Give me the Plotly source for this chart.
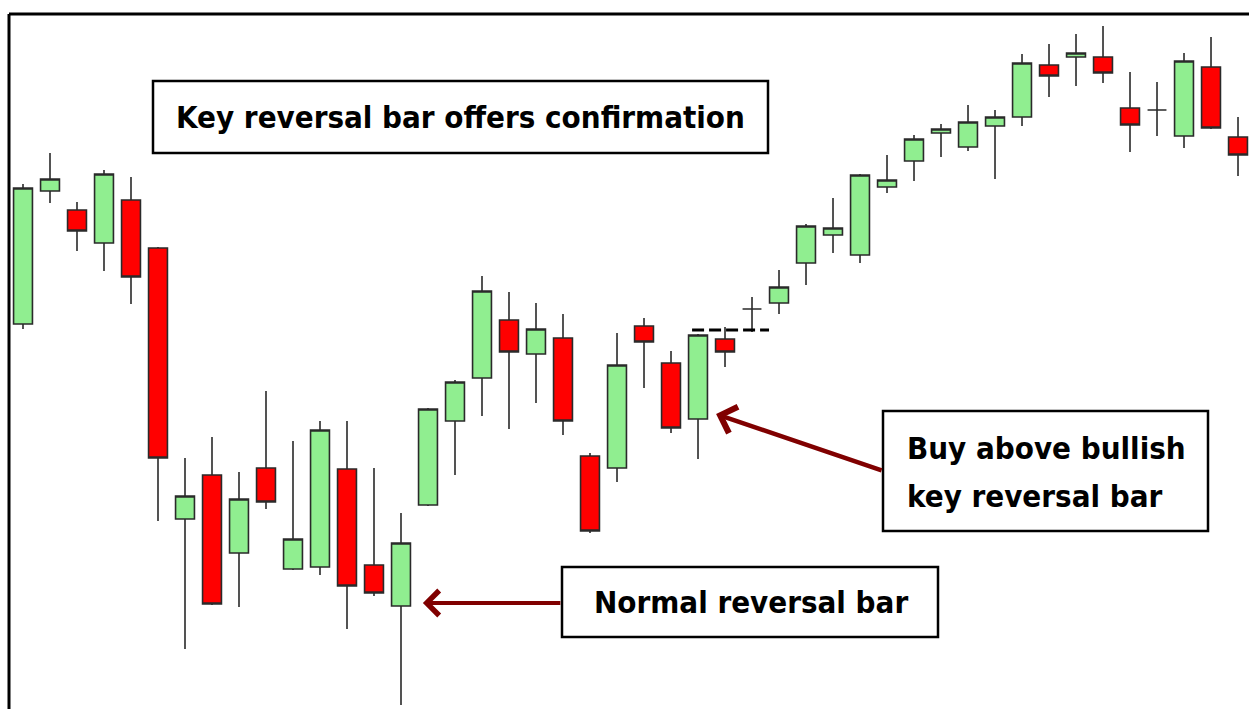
import plotly.graph_objects as go

# OHLC (arbitrary price units), one candle per bar
bar = list(range(1, 47))
opens = [38.5, 51.8, 49.9, 46.6, 50.9, 46.1, 19.0, 23.4, 15.6, 24.1,
         14.0, 14.2, 24.0, 14.4, 10.3, 20.4, 28.8, 33.1, 38.9, 35.5,
         37.1, 25.3, 24.1, 38.3, 34.6, 29.0, 37.0, 40.0, 40.6, 44.6,
         47.4, 45.4, 52.2, 54.8, 57.6, 56.2, 58.3, 59.2, 64.4, 65.2,
         65.2, 60.1, 59.9, 57.3, 64.2, 57.2]
highs = [52.5, 55.6, 50.7, 53.9, 53.2, 46.2, 25.1, 27.2, 23.7, 31.8,
         26.8, 28.8, 28.8, 24.1, 19.6, 30.1, 32.9, 43.3, 41.7, 40.6,
         39.5, 25.6, 37.6, 39.1, 35.8, 37.5, 38.2, 41.2, 43.9, 48.5,
         51.1, 53.5, 55.4, 57.4, 58.5, 60.4, 59.9, 65.5, 66.5, 67.5,
         68.3, 63.7, 62.7, 65.6, 67.2, 59.2]
lows = [38.0, 50.6, 45.8, 43.8, 40.5, 18.8, 6.0, 10.4, 10.2, 20.0,
        13.9, 13.4, 8.0, 11.3, 0.4, 20.3, 23.4, 29.3, 28.0, 30.6,
        27.4, 17.6, 22.7, 32.1, 27.6, 25.0, 34.2, 37.7, 39.5, 42.4,
        45.6, 44.6, 51.6, 52.8, 55.2, 55.8, 53.0, 58.3, 61.2, 62.3,
        62.6, 55.7, 57.3, 56.1, 58.0, 53.3]
closes = [52.1, 53.0, 47.8, 53.5, 43.2, 25.1, 21.3, 10.5, 21.0, 20.7,
          17.0, 27.9, 12.3, 11.6, 16.6, 30.0, 32.7, 41.8, 35.7, 38.0,
          28.8, 17.8, 34.4, 36.7, 28.1, 37.4, 35.7, 40.0, 42.2, 48.3,
          48.1, 53.4, 52.9, 57.0, 58.0, 58.7, 59.2, 64.6, 63.3, 65.6,
          63.6, 58.4, 59.9, 64.8, 58.1, 55.4]

trigger_level = 37.9   # dashed line above the key reversal bar

W, H = 1249, 709
fnt = "DejaVu Sans Condensed, Roboto Condensed, Arial Narrow, sans-serif"

fig = go.Figure(go.Candlestick(
    x=bar, open=opens, high=highs, low=lows, close=closes,
    increasing=dict(fillcolor="#90ee90", line=dict(color="#2a2a2a", width=1.6)),
    decreasing=dict(fillcolor="#ff0000", line=dict(color="#2a2a2a", width=1.6)),
    whiskerwidth=0, hoverinfo="skip",
))

fig.add_shape(type="line", x0=25.78, x1=28.63, y0=trigger_level, y1=trigger_level,
              line=dict(color="black", width=3, dash="12px,5px"))

# frame (only top and left edges show in the crop)
fig.add_shape(type="line", xref="paper", yref="paper", x0=0, x1=1, y0=1, y1=1,
              line=dict(color="black", width=3))
fig.add_shape(type="line", xref="paper", yref="paper", x0=0, x1=0, y0=0, y1=1,
              line=dict(color="black", width=3))

L, T = 9, 14


def px_x(p):
    return (p - L) / (W - L)


def px_y(p):
    return (H - p) / (H - T)


boxes = [(153, 81, 768, 153), (883, 411, 1208, 531), (562, 567, 938, 637)]
for x0, y0, x1, y1 in boxes:
    fig.add_shape(type="rect", xref="paper", yref="paper",
                  x0=px_x(x0), x1=px_x(x1), y0=px_y(y1), y1=px_y(y0),
                  line=dict(color="black", width=2.5), fillcolor="white")

labels = [
    ("Key reversal bar offers confirmation", 460, 117, "center"),
    ("Buy above bullish", 905, 448, "left"),
    ("key reversal bar", 905, 496, "left"),
    ("Normal reversal bar", 751, 602, "center"),
]
for txt, tx, ty, anc in labels:
    fig.add_annotation(xref="paper", yref="paper", x=px_x(tx), y=px_y(ty),
                       xanchor=anc, yanchor="middle",
                       text="<b>" + txt + "</b>", showarrow=False,
                       font=dict(family=fnt, size=31, color="black"))

# arrows
fig.add_annotation(x=15.81, y=10.6, ax=139, ay=0, text="", showarrow=True,
                   arrowhead=4, arrowsize=1.2, arrowwidth=4, arrowcolor="#800000")
fig.add_annotation(x=26.67, y=29.5, ax=167, ay=57, text="", showarrow=True,
                   arrowhead=4, arrowsize=1.2, arrowwidth=4.5, arrowcolor="#800000")

fig.update_layout(
    width=W, height=H,
    margin=dict(l=L, r=0, t=T, b=0),
    paper_bgcolor="white", plot_bgcolor="white",
    showlegend=False,
    boxgap=0.3, boxgroupgap=0,
    xaxis=dict(range=[0.4815, 46.407], visible=False, rangeslider=dict(visible=False)),
    yaxis=dict(range=[0, 69.5], visible=False),
)

# drop the default page margin so the figure fills the window
fig.write_html("out.html", config={"displayModeBar": False},
               post_script="document.body.style.margin='0';document.body.style.overflow='hidden';")
